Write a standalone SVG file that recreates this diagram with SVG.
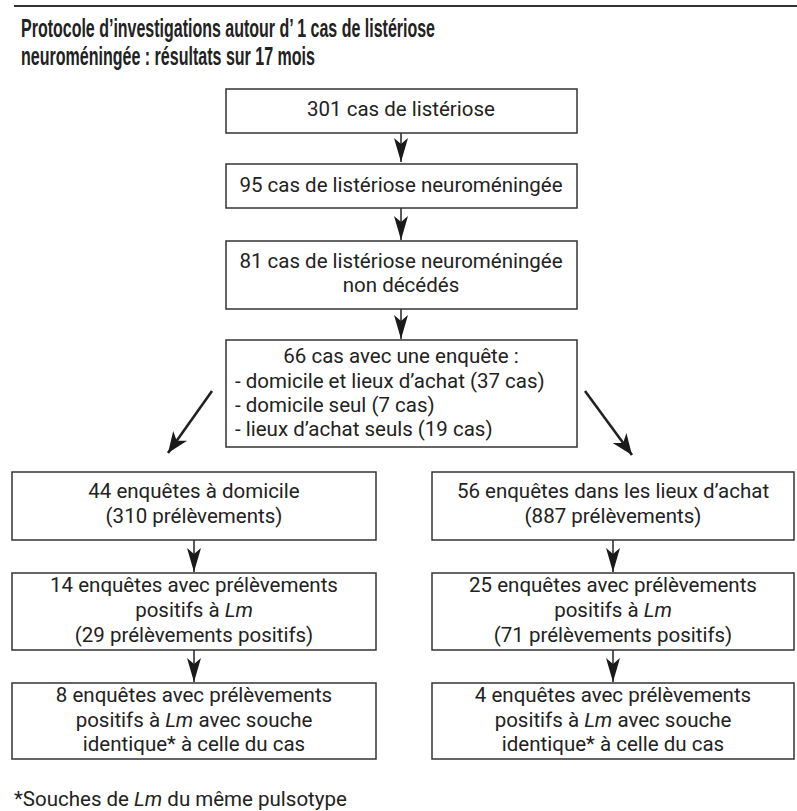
<svg xmlns="http://www.w3.org/2000/svg" width="797" height="811" viewBox="0 0 797 811">
<defs>
<style>
.box{fill:#fff;stroke:#333;stroke-width:1.5}
.t{font-family:Roboto,"Liberation Sans",sans-serif;font-size:20.5px;fill:#222}
.c{text-anchor:middle}
.title{font-family:"Liberation Sans",Arial,sans-serif;font-weight:bold;font-size:25px;fill:#222}
.ln{stroke:#222;stroke-width:1.5;fill:none}
.dg{stroke:#222;stroke-width:2.6;fill:none}
</style>
<marker id="ah" viewBox="-25 -8 26 16" markerWidth="26" markerHeight="16" refX="0" refY="0" orient="auto" markerUnits="userSpaceOnUse">
<path d="M0,0 L-24,-7 L-18,0 L-24,7 Z" fill="#1a1a1a"/>
</marker>
<marker id="ad" viewBox="-22 -10 23 20" markerWidth="23" markerHeight="20" refX="0" refY="0" orient="auto" markerUnits="userSpaceOnUse">
<path d="M0,0 L-21,-8.5 L-15,0 L-21,8.5 Z" fill="#1a1a1a"/>
</marker>
</defs>
<line x1="14" y1="6" x2="797" y2="6" stroke="#333" stroke-width="2"/>
<text class="title" x="21" y="37" textLength="414" lengthAdjust="spacingAndGlyphs">Protocole d’investigations autour d’ 1 cas de listériose</text>
<text class="title" x="21" y="65" textLength="294" lengthAdjust="spacingAndGlyphs">neuroméningée : résultats sur 17 mois</text>

<g id="connectors">
<line class="ln" x1="401" y1="133" x2="401" y2="162" marker-end="url(#ah)"/>
<line class="ln" x1="401" y1="208" x2="401" y2="240" marker-end="url(#ah)"/>
<line class="ln" x1="401" y1="309" x2="401" y2="339" marker-end="url(#ah)"/>
<line class="dg" x1="212" y1="391" x2="168" y2="453" marker-end="url(#ad)"/>
<line class="dg" x1="585" y1="391" x2="632" y2="455" marker-end="url(#ad)"/>
<line class="ln" x1="194" y1="540" x2="194" y2="572" marker-end="url(#ah)"/>
<line class="ln" x1="194" y1="650" x2="194" y2="682" marker-end="url(#ah)"/>
<line class="ln" x1="613" y1="540" x2="613" y2="572" marker-end="url(#ah)"/>
<line class="ln" x1="613" y1="650" x2="613" y2="682" marker-end="url(#ah)"/>
</g>

<g id="n1">
<rect class="box" x="226" y="89" width="351" height="44"/>
<text class="t c" x="401" y="116">301 cas de listériose</text>
</g>
<g id="n2">
<rect class="box" x="226" y="164" width="351" height="44"/>
<text class="t c" x="401" y="192">95 cas de listériose neuroméningée</text>
</g>
<g id="n3">
<rect class="box" x="226" y="241" width="351" height="68"/>
<text class="t c" x="401" y="268">81 cas de listériose neuroméningée</text>
<text class="t c" x="401" y="292">non décédés</text>
</g>
<g id="n4">
<rect class="box" x="226" y="340" width="351" height="107"/>
<text class="t c" x="401" y="363">66 cas avec une enquête :</text>
<text class="t" x="235" y="388">- domicile et lieux d’achat (37 cas)</text>
<text class="t" x="235" y="412">- domicile seul (7 cas)</text>
<text class="t" x="235" y="436">- lieux d’achat seuls (19 cas)</text>
</g>
<g id="n5">
<rect class="box" x="12" y="472" width="364" height="68"/>
<text class="t c" x="194" y="498">44 enquêtes à domicile</text>
<text class="t c" x="194" y="523">(310 prélèvements)</text>
</g>
<g id="n6">
<rect class="box" x="12" y="573" width="364" height="77"/>
<text class="t c" x="194" y="592">14 enquêtes avec prélèvements</text>
<text class="t c" x="194" y="617">positifs à <tspan font-style="italic">Lm</tspan></text>
<text class="t c" x="194" y="642">(29 prélèvements positifs)</text>
</g>
<g id="n7">
<rect class="box" x="12" y="683" width="364" height="76"/>
<text class="t c" x="194" y="702">8 enquêtes avec prélèvements</text>
<text class="t c" x="194" y="727">positifs à <tspan font-style="italic">Lm</tspan> avec souche</text>
<text class="t c" x="194" y="751">identique* à celle du cas</text>
</g>
<g id="n8">
<rect class="box" x="432" y="472" width="362" height="68"/>
<text class="t c" x="613" y="498">56 enquêtes dans les lieux d’achat</text>
<text class="t c" x="613" y="523">(887 prélèvements)</text>
</g>
<g id="n9">
<rect class="box" x="432" y="573" width="362" height="77"/>
<text class="t c" x="613" y="592">25 enquêtes avec prélèvements</text>
<text class="t c" x="613" y="617">positifs à <tspan font-style="italic">Lm</tspan></text>
<text class="t c" x="613" y="642">(71 prélèvements positifs)</text>
</g>
<g id="n10">
<rect class="box" x="432" y="683" width="362" height="76"/>
<text class="t c" x="613" y="702">4 enquêtes avec prélèvements</text>
<text class="t c" x="613" y="727">positifs à <tspan font-style="italic">Lm</tspan> avec souche</text>
<text class="t c" x="613" y="751">identique* à celle du cas</text>
</g>
<text class="t" x="14" y="806">*Souches de <tspan font-style="italic">Lm</tspan> du même pulsotype</text>
</svg>
